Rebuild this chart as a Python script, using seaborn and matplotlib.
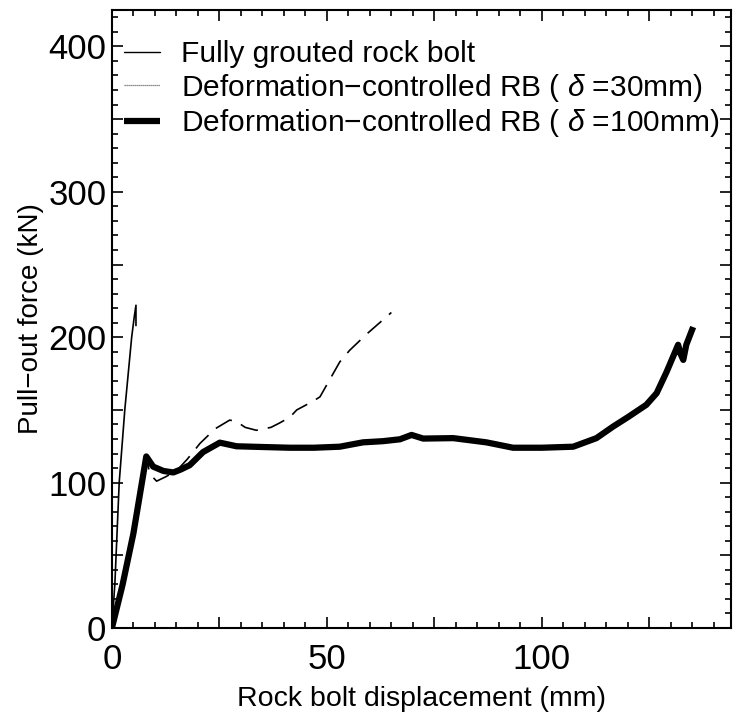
import numpy as np
import pandas as pd
import matplotlib
matplotlib.use("Agg")
import matplotlib.pyplot as plt
from matplotlib.lines import Line2D
from matplotlib.ticker import MultipleLocator, FuncFormatter
import seaborn as sns

# fully grouted rock bolt
fg_x = [0, 0.7, 1.7, 3.0, 4.6, 5.2, 5.6, 5.6]
fg_y = [0, 31, 100, 150, 200, 214, 222, 208]

# deformation-controlled RB, delta = 30mm
d30_x = [0, 2.5, 5, 8.0, 8.8, 10.4, 12.5, 15.0, 17.5, 20.5, 24, 27.4, 29, 31, 33.6, 37,
         39, 41.4, 43, 46.8, 48.4, 50.7, 53, 55.3, 59.2, 65]
d30_y = [0, 30, 65, 118, 106, 101, 104, 108, 116, 127, 137, 143, 142, 138, 136, 138,
         141, 145, 150, 156, 159, 171, 183, 191, 202, 217]

# deformation-controlled RB, delta = 100mm
d100_x = [0, 2.5, 5, 8.0, 9.6, 12, 14.3, 16, 18.1, 21.2, 25.1, 29, 35, 41.4, 47, 53,
          58.4, 63, 67, 69.7, 72.4, 79.4, 87.1, 93.3, 100, 107.3, 112.7, 116.6, 120,
          124.3, 126.7, 129, 131.7, 132.2, 132.9, 133.6, 135.2]
d100_y = [0, 30, 65, 118, 111, 108, 107, 109, 112, 121, 127.5, 125, 124.5, 124, 124,
          124.7, 127.7, 128.5, 129.8, 132.8, 130.3, 130.6, 127.7, 124, 124, 124.7,
          130.6, 138.6, 145, 153.5, 161.5, 176, 194.8, 189, 184.4, 194.8, 207]

labels = ["Fully grouted rock bolt",
          "Deformation\u2212controlled RB ( $\\delta$ =30mm)",
          "Deformation\u2212controlled RB ( $\\delta$ =100mm)"]

sns.set_style("ticks")
plt.rcParams['font.family'] = ['Liberation Sans', 'DejaVu Sans']
plt.rcParams['mathtext.fontset'] = 'custom'
plt.rcParams['mathtext.it'] = 'Liberation Sans:italic'
plt.rcParams['mathtext.rm'] = 'Liberation Sans'
for k in ['text.color', 'axes.labelcolor', 'xtick.color', 'ytick.color', 'axes.edgecolor']:
    plt.rcParams[k] = 'black'

fig = plt.figure(figsize=(7.41, 7.18), dpi=100)
ax = fig.add_axes([0.151, 0.1253, 0.8355, 0.8607])

df_fg = pd.DataFrame({"x": fg_x, "y": fg_y})
df_30 = pd.DataFrame({"x": d30_x, "y": d30_y})
df_100 = pd.DataFrame({"x": d100_x, "y": d100_y})

sns.lineplot(data=df_fg, x="x", y="y", sort=False, estimator=None, color="black",
             lw=1.2, ax=ax)
sns.lineplot(data=df_30, x="x", y="y", sort=False, estimator=None, color="black",
             lw=1.2, ax=ax)
ax.lines[-1].set_dashes([11, 6])
sns.lineplot(data=df_100, x="x", y="y", sort=False, estimator=None, color="black",
             lw=4.5, ax=ax)
ax.lines[-1].set_solid_capstyle("butt")
ax.lines[-1].set_solid_joinstyle("round")

ax.set_xlim(0, 144)
ax.set_ylim(0, 425)

ax.xaxis.set_major_locator(MultipleLocator(25))
ax.xaxis.set_minor_locator(MultipleLocator(5))
ax.yaxis.set_major_locator(MultipleLocator(50))
ax.yaxis.set_minor_locator(MultipleLocator(10))
ax.xaxis.set_major_formatter(FuncFormatter(lambda v, p: f"{v:.0f}" if v % 50 == 0 else ""))
ax.yaxis.set_major_formatter(FuncFormatter(lambda v, p: f"{v:.0f}" if v % 100 == 0 else ""))
ax.tick_params(which="both", direction="in", top=True, right=True, width=1.2,
               labelsize=25)
ax.tick_params(axis="x", pad=11)
ax.tick_params(axis="y", pad=4)
ax.tick_params(which="major", length=8)
ax.tick_params(which="minor", length=4)
for s in ax.spines.values():
    s.set_linewidth(1.5)

ax.set_xlabel("Rock bolt displacement (mm)", fontsize=20.5, labelpad=7)
ax.set_ylabel("Pull\u2212out force (kN)", fontsize=20, labelpad=3)

handles = [Line2D([], [], color="black", lw=1.0),
           Line2D([], [], color="dimgray", lw=0.9, ls=(0, (1, 0.6))),
           Line2D([], [], color="black", lw=4.5, solid_capstyle="butt")]
ax.legend(handles, labels, loc="upper left", bbox_to_anchor=(-0.014, 0.985),
          frameon=False, fontsize=21.5, handlelength=1.2, handletextpad=0.7,
          labelspacing=0.12, borderaxespad=0.3)

fig.savefig("out.png", dpi=100)
